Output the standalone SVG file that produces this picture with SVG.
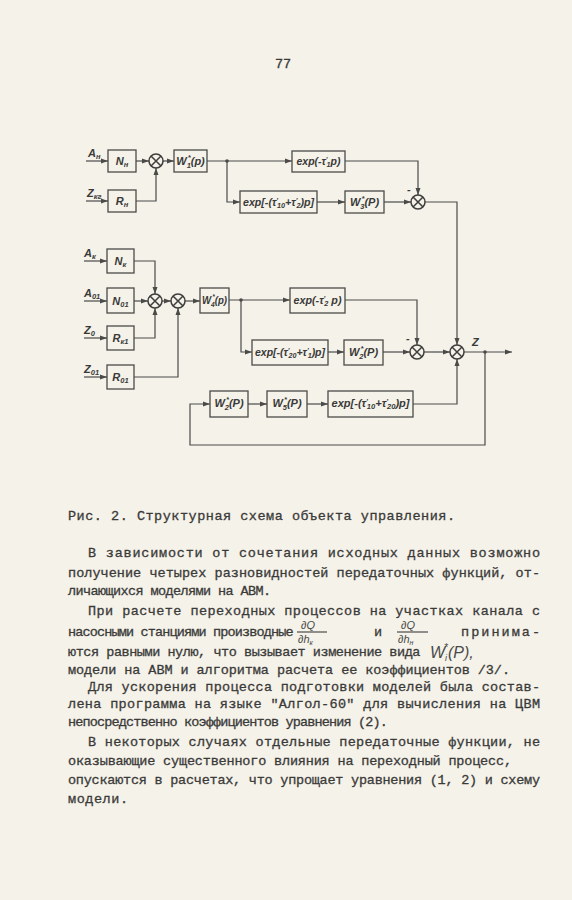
<svg xmlns="http://www.w3.org/2000/svg" width="572" height="900" viewBox="0 0 572 900">
<style>
.bg{fill:#f5f2ea}
.box{fill:none;stroke:#4a4a48;stroke-width:1.3}
.ln{fill:none;stroke:#4a4a48;stroke-width:1.2}
.sum{fill:none;stroke:#3e3e3c;stroke-width:1.5}
.dot{fill:#4a4a48}
.lb{font-family:"Liberation Sans","DejaVu Sans",sans-serif;font-style:italic;font-weight:bold;font-size:11px;fill:#3a3a38}
.sb{font-size:7.5px}
.tx{font-family:"Liberation Mono","DejaVu Sans Mono",monospace;font-size:13.5px;fill:#3a3a38;stroke:#3a3a38;stroke-width:0.3}
.hw{font-family:"Liberation Sans","DejaVu Sans",sans-serif;font-style:italic;fill:#4a4a48}
</style>
<defs>
<marker id="a" markerWidth="7" markerHeight="6" refX="7" refY="3" orient="auto" markerUnits="userSpaceOnUse"><path d="M0,0.5 L7,3 L0,5.5z" fill="#4a4a48"/></marker>
</defs>
<rect class="bg" x="0" y="0" width="572" height="900"/>
<text class="tx" x="283" y="68" text-anchor="middle" font-size="15">77</text>

<g id="connectors">
<path class="ln" d="M86,161 H108" marker-end="url(#a)"/>
<path class="ln" d="M86,201 H108" marker-end="url(#a)"/>
<path class="ln" d="M136,161 H149" marker-end="url(#a)"/>
<path class="ln" d="M136,201 H156 V168" marker-end="url(#a)"/>
<path class="ln" d="M163,161 H174" marker-end="url(#a)"/>
<path class="ln" d="M207,161 H292" marker-end="url(#a)"/>
<path class="ln" d="M227,161 V202 H240" marker-end="url(#a)"/>
<path class="ln" d="M317,202 H345" marker-end="url(#a)"/>
<path class="ln" d="M384,202 H411" marker-end="url(#a)"/>
<path class="ln" d="M345,161 H418 V195" marker-end="url(#a)"/>
<path class="ln" d="M425,202 H457 V345" marker-end="url(#a)"/>
<circle class="dot" cx="227" cy="161" r="1.8"/>

<path class="ln" d="M84,261 H107" marker-end="url(#a)"/>
<path class="ln" d="M84,301 H107" marker-end="url(#a)"/>
<path class="ln" d="M84,338 H107" marker-end="url(#a)"/>
<path class="ln" d="M84,377 H107" marker-end="url(#a)"/>
<path class="ln" d="M134,261 H155 V294" marker-end="url(#a)"/>
<path class="ln" d="M134,301 H148" marker-end="url(#a)"/>
<path class="ln" d="M134,338 H155 V308" marker-end="url(#a)"/>
<path class="ln" d="M162,301 H171" marker-end="url(#a)"/>
<path class="ln" d="M134,377 H178 V308" marker-end="url(#a)"/>
<path class="ln" d="M185,301 H200" marker-end="url(#a)"/>
<path class="ln" d="M229,300 H290" marker-end="url(#a)"/>
<path class="ln" d="M241,300 V352 H252" marker-end="url(#a)"/>
<path class="ln" d="M328,352 H344" marker-end="url(#a)"/>
<path class="ln" d="M383,352 H410" marker-end="url(#a)"/>
<path class="ln" d="M345,300 H417 V345" marker-end="url(#a)"/>
<path class="ln" d="M424,352 H450" marker-end="url(#a)"/>
<path class="ln" d="M464,352 H512" marker-end="url(#a)"/>
<path class="ln" d="M485,352 V445 H190 V404 H210" marker-end="url(#a)"/>
<path class="ln" d="M248,404 H267" marker-end="url(#a)"/>
<path class="ln" d="M307,404 H328" marker-end="url(#a)"/>
<path class="ln" d="M413,404 H457 V359" marker-end="url(#a)"/>
<circle class="dot" cx="241" cy="300" r="1.8"/>
<circle class="dot" cx="485" cy="352" r="1.8"/>
</g>

<g id="in-An"><text class="lb" x="88" y="157">A<tspan class="sb" dy="2">н</tspan></text></g>
<g id="in-Zk2"><text class="lb" x="87" y="197">Z<tspan class="sb" dy="2">кг</tspan></text></g>
<g id="Nn"><rect class="box" x="108" y="150" width="28" height="22"/><text class="lb" x="122" y="165" text-anchor="middle">N<tspan class="sb" dy="2">н</tspan></text></g>
<g id="Rn"><rect class="box" x="108" y="190" width="28" height="22"/><text class="lb" x="122" y="205" text-anchor="middle">R<tspan class="sb" dy="2">н</tspan></text></g>
<g id="S1"><circle class="sum" cx="156" cy="161" r="7"/><path class="sum" d="M151,156 L161,166 M161,156 L151,166"/></g>
<g id="W1"><rect class="box" x="174" y="150" width="33" height="22"/><text class="lb" x="190.5" y="165" text-anchor="middle">W<tspan class="sb" dy="3">1</tspan><tspan class="sb" dy="-8" dx="-3">*</tspan><tspan dy="5">(p)</tspan></text></g>
<g id="E1"><rect class="box" x="292" y="151" width="53" height="21"/><text class="lb" x="318.5" y="165" text-anchor="middle" textLength="44" lengthAdjust="spacingAndGlyphs">exp(-τ<tspan class="sb" dy="-3">'</tspan><tspan class="sb" dy="5" dx="-1">1</tspan><tspan dy="-2">p)</tspan></text></g>
<g id="E2"><rect class="box" x="240" y="191" width="77" height="22"/><text class="lb" x="278.5" y="206" text-anchor="middle" textLength="71" lengthAdjust="spacingAndGlyphs">exp[-(τ<tspan class="sb" dy="-3">'</tspan><tspan class="sb" dy="5" dx="-1">10</tspan><tspan dy="-2">+τ</tspan><tspan class="sb" dy="-3">'</tspan><tspan class="sb" dy="5" dx="-1">2</tspan><tspan dy="-2">)p]</tspan></text></g>
<g id="W3"><rect class="box" x="345" y="191" width="39" height="22"/><text class="lb" x="364.5" y="206" text-anchor="middle">W<tspan class="sb" dy="3">3</tspan><tspan class="sb" dy="-8" dx="-3">*</tspan><tspan dy="5">(P)</tspan></text></g>
<g id="S2"><circle class="sum" cx="418" cy="202" r="7"/><path class="sum" d="M413,197 L423,207 M423,197 L413,207"/><text class="lb" x="407" y="193">-</text></g>

<g id="in-Ak"><text class="lb" x="84" y="257">A<tspan class="sb" dy="2">к</tspan></text></g>
<g id="in-A01"><text class="lb" x="84" y="297">A<tspan class="sb" dy="2">01</tspan></text></g>
<g id="in-Z0"><text class="lb" x="84" y="334">Z<tspan class="sb" dy="2">0</tspan></text></g>
<g id="in-Z01"><text class="lb" x="84" y="373">Z<tspan class="sb" dy="2">01</tspan></text></g>
<g id="Nk"><rect class="box" x="107" y="249" width="27" height="24"/><text class="lb" x="120.5" y="265" text-anchor="middle">N<tspan class="sb" dy="2">к</tspan></text></g>
<g id="N01"><rect class="box" x="107" y="288" width="27" height="25"/><text class="lb" x="120.5" y="305" text-anchor="middle">N<tspan class="sb" dy="2">01</tspan></text></g>
<g id="Rk1"><rect class="box" x="107" y="326" width="27" height="24"/><text class="lb" x="120.5" y="342" text-anchor="middle">R<tspan class="sb" dy="2">к1</tspan></text></g>
<g id="R01"><rect class="box" x="107" y="365" width="27" height="24"/><text class="lb" x="120.5" y="381" text-anchor="middle">R<tspan class="sb" dy="2">01</tspan></text></g>
<g id="S3"><circle class="sum" cx="155" cy="301" r="7"/><path class="sum" d="M150,296 L160,306 M160,296 L150,306"/></g>
<g id="S4"><circle class="sum" cx="178" cy="301" r="7"/><path class="sum" d="M173,296 L183,306 M183,296 L173,306"/></g>
<g id="W4"><rect class="box" x="200" y="288" width="29" height="25"/><text class="lb" x="214.5" y="304" text-anchor="middle" textLength="25" lengthAdjust="spacingAndGlyphs">W<tspan class="sb" dy="3">4</tspan><tspan class="sb" dy="-8" dx="-3">*</tspan><tspan dy="5">(p)</tspan></text></g>
<g id="E3"><rect class="box" x="290" y="288" width="55" height="25"/><text class="lb" x="317.5" y="304" text-anchor="middle" textLength="48" lengthAdjust="spacingAndGlyphs">exp(-τ<tspan class="sb" dy="-3">'</tspan><tspan class="sb" dy="5" dx="-1">2</tspan><tspan dy="-2"> p)</tspan></text></g>
<g id="E4"><rect class="box" x="252" y="340" width="76" height="25"/><text class="lb" x="290" y="356" text-anchor="middle" textLength="70" lengthAdjust="spacingAndGlyphs">exp[-(τ<tspan class="sb" dy="-3">'</tspan><tspan class="sb" dy="5" dx="-1">20</tspan><tspan dy="-2">+τ</tspan><tspan class="sb" dy="-3">'</tspan><tspan class="sb" dy="5" dx="-1">1</tspan><tspan dy="-2">)p]</tspan></text></g>
<g id="W2"><rect class="box" x="344" y="340" width="39" height="25"/><text class="lb" x="363.5" y="356" text-anchor="middle">W<tspan class="sb" dy="3">2</tspan><tspan class="sb" dy="-8" dx="-3">*</tspan><tspan dy="5">(P)</tspan></text></g>
<g id="S5"><circle class="sum" cx="417" cy="352" r="7"/><path class="sum" d="M412,347 L422,357 M422,347 L412,357"/><text class="lb" x="406" y="342">-</text></g>
<g id="S6"><circle class="sum" cx="457" cy="352" r="7"/><path class="sum" d="M452,347 L462,357 M462,347 L452,357"/></g>
<g id="out-Z"><text class="lb" x="472" y="346">Z</text></g>
<g id="W2b"><rect class="box" x="210" y="391" width="38" height="26"/><text class="lb" x="229" y="407" text-anchor="middle">W<tspan class="sb" dy="3">2</tspan><tspan class="sb" dy="-8" dx="-3">*</tspan><tspan dy="5">(P)</tspan></text></g>
<g id="W5"><rect class="box" x="267" y="391" width="40" height="26"/><text class="lb" x="287" y="407" text-anchor="middle">W<tspan class="sb" dy="3">5</tspan><tspan class="sb" dy="-8" dx="-3">*</tspan><tspan dy="5">(P)</tspan></text></g>
<g id="E5"><rect class="box" x="328" y="391" width="85" height="26"/><text class="lb" x="370.5" y="407" text-anchor="middle" textLength="78" lengthAdjust="spacingAndGlyphs">exp[-(τ<tspan class="sb" dy="-3">'</tspan><tspan class="sb" dy="5" dx="-1">10</tspan><tspan dy="-2">+τ</tspan><tspan class="sb" dy="-3">'</tspan><tspan class="sb" dy="5" dx="-1">20</tspan><tspan dy="-2">)p]</tspan></text></g>

<g id="caption">
<text class="tx" x="68" y="520" textLength="387" lengthAdjust="spacing">Рис. 2. Структурная схема объекта управления.</text>
</g>
<g id="body">
<text class="tx" x="88" y="557" textLength="452" lengthAdjust="spacing">В зависимости от сочетания исходных данных возможно</text>
<text class="tx" x="68" y="577" textLength="472" lengthAdjust="spacing">получение четырех разновидностей передаточных функций, от-</text>
<text class="tx" x="68" y="595" letter-spacing="-0.6">личающихся моделями на АВМ.</text>
<text class="tx" x="88" y="615" textLength="452" lengthAdjust="spacing">При расчете переходных процессов на участках канала с</text>
<text class="tx" x="68" y="636" letter-spacing="-0.85">насосными станциями производные</text>
<text class="hw" font-size="11" x="301" y="629">∂Q</text>
<path class="ln" d="M297,632 H327"/>
<text class="hw" font-size="11" x="298" y="643">∂h<tspan font-size="7" dy="2">к</tspan></text>
<text class="tx" x="374" y="636">и</text>
<text class="hw" font-size="11" x="401" y="629">∂Q</text>
<path class="ln" d="M397,632 H428"/>
<text class="hw" font-size="11" x="398" y="643">∂h<tspan font-size="7" dy="2">н</tspan></text>
<text class="tx" x="461" y="636" textLength="79" lengthAdjust="spacing">принима-</text>
<text class="tx" x="68" y="656" letter-spacing="-0.45">ются равными нулю, что вызывает изменение вида</text>
<text class="hw" font-size="16" x="430" y="658">W<tspan font-size="9" dy="3">i</tspan><tspan font-size="10" dy="-10" dx="-3">*</tspan><tspan dy="7">(P),</tspan></text>
<text class="tx" x="68" y="674" textLength="442" lengthAdjust="spacing">модели на АВМ и алгоритма расчета ее коэффициентов /3/.</text>
<text class="tx" x="88" y="691" textLength="452" lengthAdjust="spacing">Для ускорения процесса подготовки моделей была состав-</text>
<text class="tx" x="68" y="708" textLength="472" lengthAdjust="spacing">лена программа на языке "Алгол-60" для вычисления на ЦВМ</text>
<text class="tx" x="68" y="726" letter-spacing="-0.85">непосредственно коэффициентов уравнения (2).</text>
<text class="tx" x="88" y="746" textLength="452" lengthAdjust="spacing">В некоторых случаях отдельные передаточные функции, не</text>
<text class="tx" x="68" y="765" textLength="444" lengthAdjust="spacing">оказывающие существенного влияния на переходный процесс,</text>
<text class="tx" x="68" y="784" textLength="472" lengthAdjust="spacing">опускаются в расчетах, что упрощает уравнения (1, 2) и схему</text>
<text class="tx" x="68" y="803" textLength="60" lengthAdjust="spacing">модели.</text>
</g>
</svg>
